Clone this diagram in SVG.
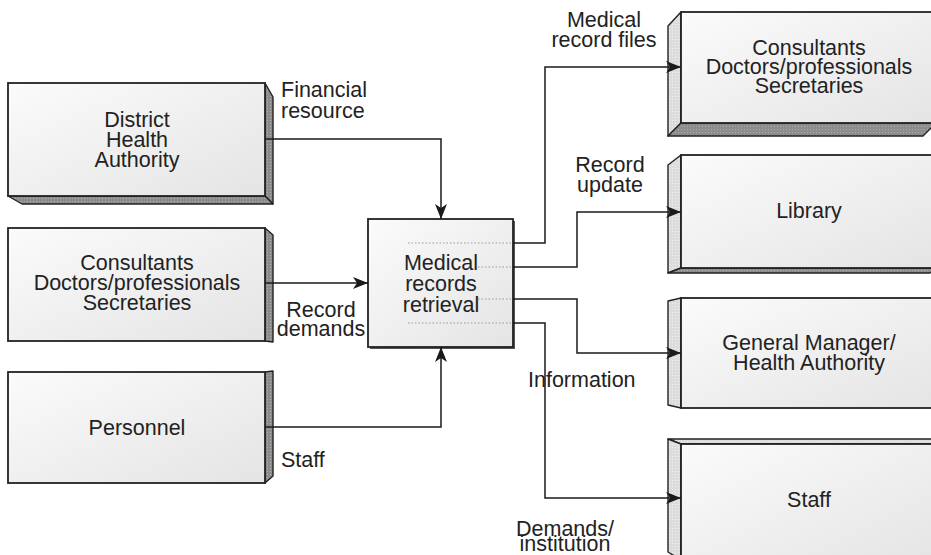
<svg xmlns="http://www.w3.org/2000/svg" width="931" height="555" viewBox="0 0 931 555">
  <defs>
    <linearGradient id="faceGrad" x1="0" y1="0" x2="1" y2="1">
      <stop offset="0" stop-color="#fbfbfb"/>
      <stop offset="1" stop-color="#e4e4e4"/>
    </linearGradient>
    <pattern id="darkHatch" width="3" height="3" patternUnits="userSpaceOnUse">
      <rect width="3" height="3" fill="#8c8c8c"/>
      <rect width="1" height="1" fill="#b0b0b0"/>
    </pattern>
    <pattern id="lightHatch" width="3" height="3" patternUnits="userSpaceOnUse">
      <rect width="3" height="3" fill="#dcdcdc"/>
      <rect width="1" height="1" fill="#f0f0f0"/>
    </pattern>
    <marker id="arrow" markerUnits="userSpaceOnUse" markerWidth="16" markerHeight="12" refX="15" refY="6" orient="auto">
      <path d="M0,0 L15,6 L0,12 L4,6 Z" fill="#1a1a1a"/>
    </marker>
  </defs>
  <style>
    .front { fill: url(#faceGrad); stroke: #222; stroke-width: 1.8; }
    .dark { fill: url(#darkHatch); stroke: #222; stroke-width: 1.4; stroke-linejoin: round; }
    .light { fill: url(#lightHatch); stroke: #222; stroke-width: 1.4; stroke-linejoin: round; }
    .label { font-family: "Liberation Sans", Arial, Helvetica, sans-serif; font-size: 21.5px; fill: #222; }
    .mid { text-anchor: middle; }
    .conn { fill: none; stroke: #1a1a1a; stroke-width: 1.5; }
    .dots { stroke: #999; stroke-width: 1; stroke-dasharray: 1.5 2; fill: none; }
  </style>

  <rect width="931" height="555" fill="#ffffff"/>

  <!-- Source boxes (left) -->
  <g id="district-health-authority">
    <polygon class="dark" points="265,83 273,97 273,204 265,196"/>
    <polygon class="dark" points="8,196 22,204 273,204 265,196"/>
    <rect class="front" x="8" y="83" width="257" height="113"/>
    <text class="label mid" x="137" y="127">District</text>
    <text class="label mid" x="137" y="147">Health</text>
    <text class="label mid" x="137" y="167">Authority</text>
  </g>

  <g id="consultants-left">
    <polygon class="dark" points="265,228 273,235 273,342 265,341"/>
    <rect class="front" x="8" y="228" width="257" height="113"/>
    <text class="label mid" x="137" y="270">Consultants</text>
    <text class="label mid" x="137" y="290">Doctors/professionals</text>
    <text class="label mid" x="137" y="310">Secretaries</text>
  </g>

  <g id="personnel">
    <polygon class="dark" points="265,372 273,371 273,476 265,483"/>
    <rect class="front" x="8" y="372" width="257" height="111"/>
    <text class="label mid" x="137" y="435">Personnel</text>
  </g>

  <!-- Central process -->
  <g id="medical-records-retrieval">
    <rect x="370" y="221" width="145" height="128" fill="#555"/>
    <rect class="front" x="368" y="219" width="145" height="128"/>
    <line class="dots" x1="408" y1="243" x2="513" y2="243"/>
    <line class="dots" x1="478" y1="267" x2="513" y2="267"/>
    <line class="dots" x1="478" y1="299" x2="513" y2="299"/>
    <line class="dots" x1="408" y1="323" x2="513" y2="323"/>
    <text class="label mid" x="441" y="270">Medical</text>
    <text class="label mid" x="441" y="291">records</text>
    <text class="label mid" x="441" y="312">retrieval</text>
  </g>

  <!-- Destination boxes (right) -->
  <g id="consultants-right">
    <polygon class="light" points="668,26 681,12 681,123 668,136"/>
    <polygon class="dark" points="681,123 668,136 923,136 936,123"/>
    <rect class="front" x="681" y="12" width="256" height="111"/>
    <text class="label mid" x="809" y="55">Consultants</text>
    <text class="label mid" x="809" y="74">Doctors/professionals</text>
    <text class="label mid" x="809" y="93">Secretaries</text>
  </g>

  <g id="library">
    <polygon class="light" points="668,165 681,155 681,268 668,273"/>
    <polygon class="dark" points="681,268 668,273 930,273 936,268"/>
    <rect class="front" x="681" y="155" width="256" height="113"/>
    <text class="label mid" x="809" y="218">Library</text>
  </g>

  <g id="general-manager">
    <polygon class="light" points="668,301 681,298 681,408 668,405"/>
    <rect class="front" x="681" y="298" width="256" height="110"/>
    <text class="label mid" x="809" y="350">General Manager/</text>
    <text class="label mid" x="809" y="370">Health Authority</text>
  </g>

  <g id="staff-box">
    <polygon class="light" points="668,439 936,439 936,444 681,444"/>
    <polygon class="light" points="668,439 681,444 681,560 668,552"/>
    <rect class="front" x="681" y="444" width="256" height="120"/>
    <text class="label mid" x="809" y="507">Staff</text>
  </g>

  <!-- Connectors -->
  <g id="connectors">
    <path class="conn" d="M265,139 H441 V219" marker-end="url(#arrow)"/>
    <path class="conn" d="M265,283 H368" marker-end="url(#arrow)"/>
    <path class="conn" d="M265,427 H441 V347" marker-end="url(#arrow)"/>
    <path class="conn" d="M513,243 H545 V67 H681" marker-end="url(#arrow)"/>
    <path class="conn" d="M513,267 H577 V212 H681" marker-end="url(#arrow)"/>
    <path class="conn" d="M513,299 H577 V353 H681" marker-end="url(#arrow)"/>
    <path class="conn" d="M513,323 H545 V498 H681" marker-end="url(#arrow)"/>
  </g>

  <!-- Flow labels -->
  <g id="flow-labels">
    <text class="label" x="281" y="97">Financial</text>
    <text class="label" x="281" y="118">resource</text>
    <text class="label mid" x="321" y="317">Record</text>
    <text class="label mid" x="321" y="336">demands</text>
    <text class="label" x="281" y="467">Staff</text>
    <text class="label mid" x="604" y="27">Medical</text>
    <text class="label mid" x="604" y="47">record files</text>
    <text class="label mid" x="610" y="172">Record</text>
    <text class="label mid" x="610" y="192">update</text>
    <text class="label" x="528" y="387">Information</text>
    <text class="label mid" x="565" y="536">Demands/</text>
    <text class="label mid" x="565" y="551">institution</text>
  </g>
</svg>
